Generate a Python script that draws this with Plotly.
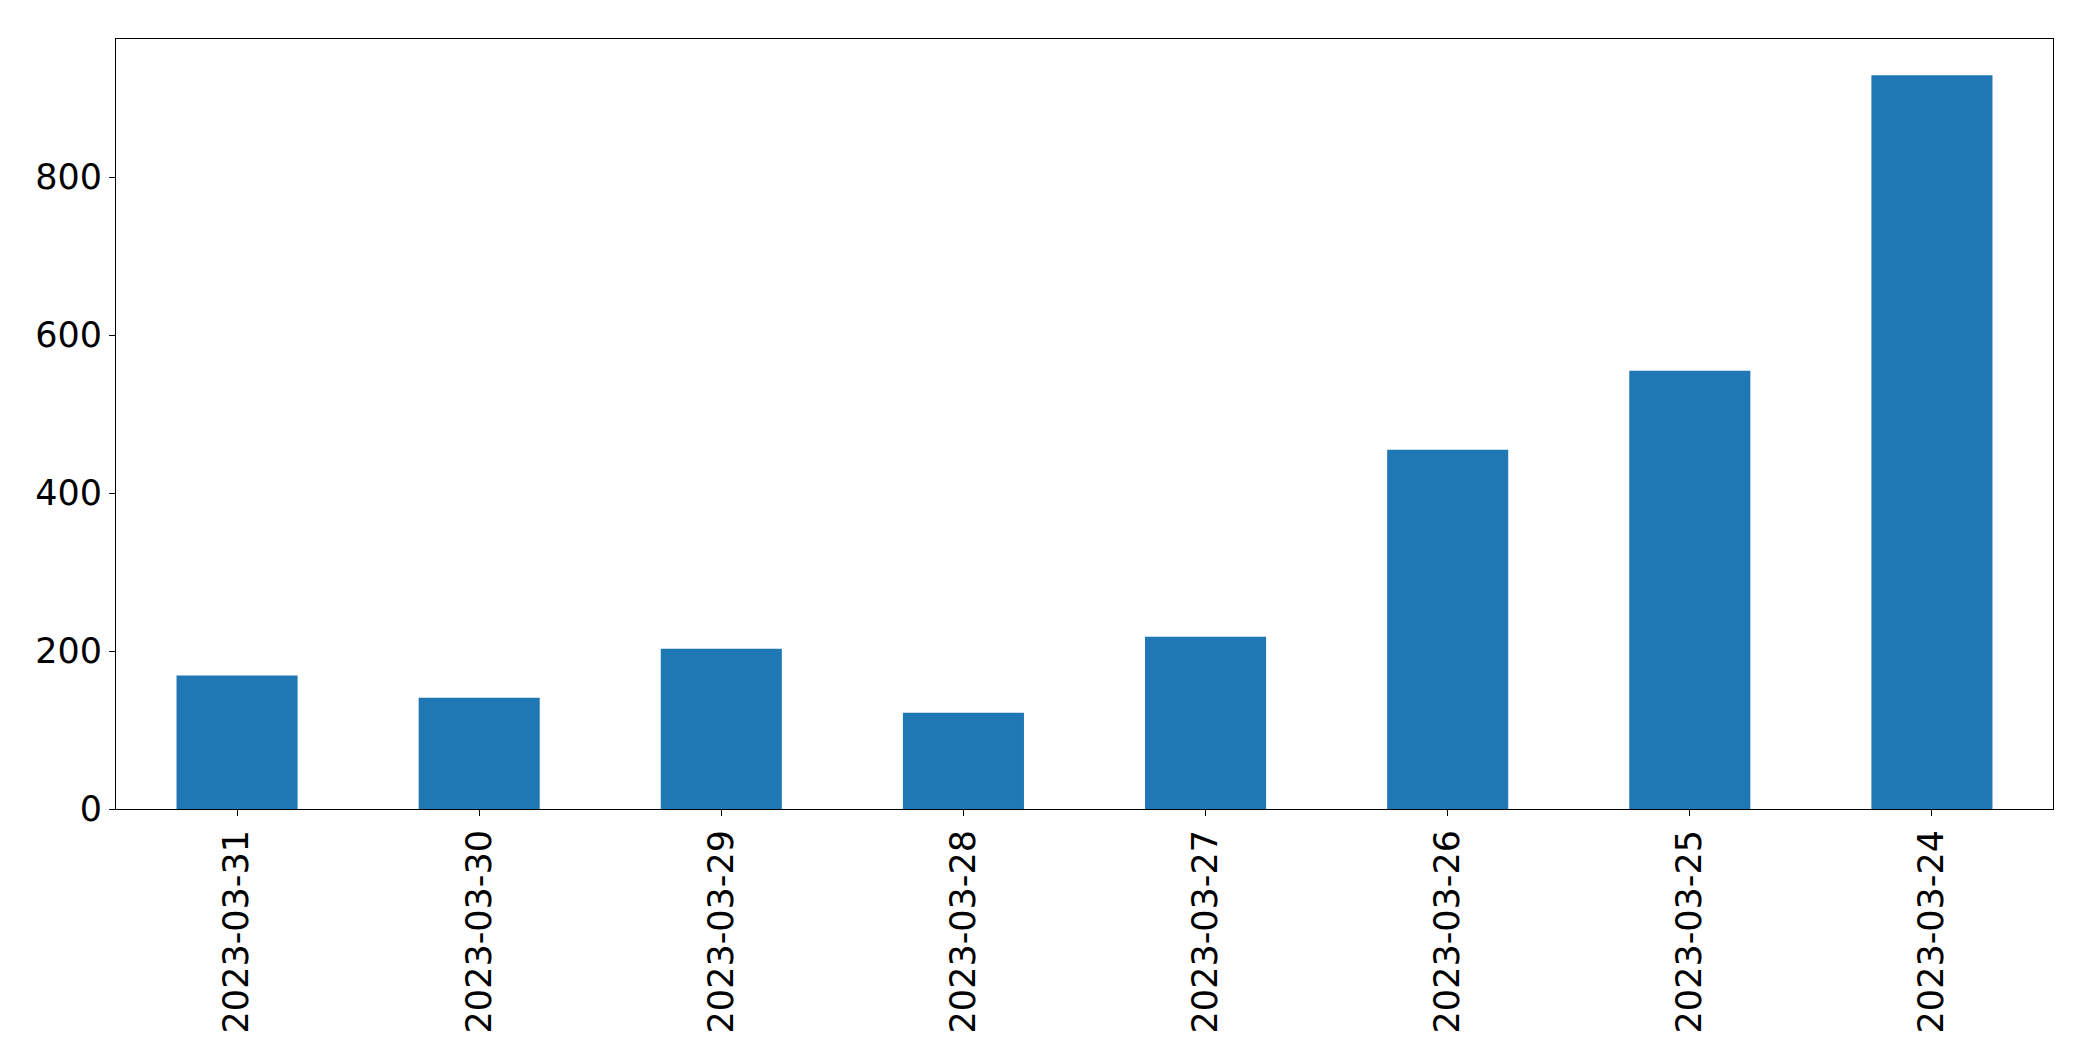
import plotly.graph_objects as go

categories = ["2023-03-31", "2023-03-30", "2023-03-29", "2023-03-28",
              "2023-03-27", "2023-03-26", "2023-03-25", "2023-03-24"]
values = [169, 141, 203, 122, 218, 455, 555, 929]
y_ticks = [0, 200, 400, 600, 800]

fig = go.Figure(go.Bar(x=categories, y=values, marker_color="#1f77b4",
                       marker_line_width=0))

fig.update_layout(
    width=2085, height=1053,
    margin=dict(l=108, r=40, t=31, b=252),
    paper_bgcolor="white", plot_bgcolor="white",
    bargap=0.5, showlegend=False,
    font=dict(family="DejaVu Sans", size=35, color="black"),
)
fig.update_xaxes(
    type="category", range=[-0.5, 7.5], tickangle=-90,
    showline=True, linecolor="black", linewidth=1, mirror=True,
    ticks="outside", ticklen=6, tickcolor="black", showgrid=False,
    tickfont=dict(size=35),
)
fig.update_yaxes(
    range=[0, 975], tickvals=y_ticks, ticktext=[str(v) for v in y_ticks],
    showline=True, linecolor="black", linewidth=1, mirror=True,
    ticks="outside", ticklen=6, tickcolor="black", showgrid=False,
    zeroline=False, tickfont=dict(size=35),
)

fig.write_html("out.html")
